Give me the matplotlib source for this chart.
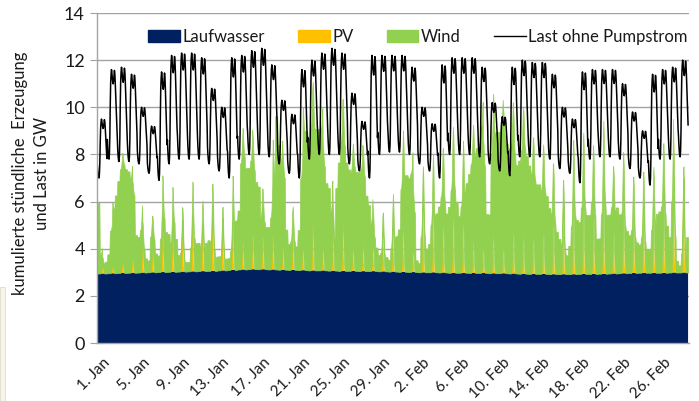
import numpy as np
import matplotlib
matplotlib.use("Agg")
import matplotlib.pyplot as plt
from matplotlib.patches import Patch, Rectangle
from matplotlib.lines import Line2D
from matplotlib.transforms import ScaledTranslation

plt.rcParams['font.family'] = ['Lato', 'DejaVu Sans']

# ---------------- data ----------------
n_days = 59  # 1 Jan .. 28 Feb, hourly values
tick_days = [0, 4, 8, 12, 16, 20, 24, 28, 32, 36, 40, 44, 48, 52, 56]
tick_labels = ["1. Jan", "5. Jan", "9. Jan", "13. Jan", "17. Jan", "21. Jan",
               "25. Jan", "29. Jan", "2. Feb", "6. Feb", "10. Feb", "14. Feb",
               "18. Feb", "22. Feb", "26. Feb"]
series_names = ["Laufwasser", "PV", "Wind", "Last ohne Pumpstrom"]

# Run-of-river generation per day (GW)
laufwasser = [2.95, 2.96, 2.97, 2.98, 2.99, 3.00, 3.01, 3.02, 3.03, 3.04,
              3.05, 3.06, 3.08, 3.10, 3.12, 3.13, 3.13, 3.12, 3.11, 3.10,
              3.09, 3.08, 3.08, 3.07, 3.06, 3.06, 3.05, 3.05, 3.04, 3.03,
              3.02, 3.01, 3.00, 3.00, 2.99, 2.98, 2.98, 2.97, 2.97, 2.96,
              2.96, 2.95, 2.94, 2.93, 2.93, 2.92, 2.92, 2.92, 2.93, 2.93,
              2.94, 2.95, 2.96, 2.97, 2.98, 2.98, 2.98, 2.99, 2.99]

# PV midday peak per day (GW)
pv_peak = [0.3, 0.3, 0.5, 0.6, 1.2, 1.0, 1.8, 1.5, 2.2, 2.4,
           2.0, 2.8, 2.2, 2.0, 1.2, 1.5, 1.4, 1.5, 1.0, 1.5,
           1.0, 2.0, 1.0, 1.5, 2.0, 1.0, 1.2, 1.2, 1.8, 2.0,
           2.0, 1.0, 3.0, 2.8, 2.3, 2.7, 2.4, 1.5, 1.2, 1.8,
           1.2, 2.0, 1.8, 1.8, 2.0, 2.5, 3.0, 3.2, 3.2, 2.8,
           3.5, 2.0, 3.0, 2.6, 3.0, 2.5, 3.0, 4.0, 4.0]
# relative PV profile over the 24 hours of a day
pv_profile = [0, 0, 0, 0, 0, 0, 0, 0, 0.04, 0.18, 0.5, 0.88,
              1.0, 0.82, 0.45, 0.15, 0.03, 0, 0, 0, 0, 0, 0, 0]

# Wind generation per day, four 6-hour blocks (GW)
wind_00_06 = [3.0, 0.8, 3.9, 4.3, 1.5, 0.5, 0.7, 1.6, 0.7, 0.4,
              1.2, 1.3, 0.6, 0.5, 2.5, 4.3, 3.5, 1.8, 5.3, 1.1,
              1.7, 5.6, 6.0, 3.5, 4.6, 4.3, 4.2, 2.8, 0.7, 0.5,
              1.8, 4.0, 0.4, 1.2, 2.8, 2.8, 2.4, 4.2, 5.5, 2.5,
              6.0, 5.3, 4.8, 4.6, 3.8, 2.8, 1.5, 1.2, 2.2, 2.5,
              1.5, 2.5, 2.5, 1.6, 1.2, 1.0, 2.6, 1.5, 0.3]
wind_06_12 = [0.8, 1.8, 4.4, 4.0, 1.8, 1.5, 1.4, 1.2, 0.8, 1.0,
              1.0, 1.2, 0.6, 0.8, 4.5, 4.6, 2.2, 2.2, 4.6, 1.2,
              3.9, 6.0, 6.0, 2.5, 5.5, 4.2, 4.3, 2.0, 0.8, 1.0,
              3.5, 4.2, 1.5, 2.0, 3.2, 3.5, 2.8, 4.6, 6.2, 5.0,
              6.3, 5.5, 5.2, 4.2, 3.5, 2.5, 1.2, 2.0, 2.8, 3.0,
              2.5, 2.8, 2.5, 1.8, 1.5, 1.8, 2.8, 3.0, 0.8]
wind_12_18 = [0.4, 2.7, 4.6, 3.3, 1.0, 1.4, 2.3, 2.1, 0.5, 1.4,
              1.0, 0.9, 0.5, 2.0, 4.8, 4.2, 2.0, 4.0, 3.9, 1.2,
              5.9, 6.0, 4.4, 1.3, 5.3, 4.4, 4.0, 1.4, 0.7, 1.3,
              4.0, 2.5, 1.5, 2.2, 3.0, 3.5, 3.2, 4.8, 4.5, 5.8,
              5.8, 5.0, 5.3, 4.0, 3.5, 2.2, 1.0, 2.5, 2.8, 2.5,
              3.0, 2.5, 2.0, 1.5, 1.3, 2.0, 2.5, 1.5, 0.5]
wind_18_24 = [0.5, 3.3, 4.4, 1.6, 0.6, 0.8, 1.7, 1.4, 0.4, 1.2,
              1.2, 0.6, 0.5, 2.1, 4.3, 3.7, 1.8, 6.5, 1.7, 1.0,
              5.9, 6.0, 3.7, 3.5, 4.6, 4.2, 3.2, 1.0, 0.6, 1.5,
              4.1, 0.5, 1.0, 2.5, 2.5, 3.0, 3.8, 5.3, 2.5, 6.0,
              5.5, 4.6, 5.0, 3.8, 3.3, 1.8, 0.8, 2.3, 2.5, 1.5,
              2.5, 2.8, 1.8, 1.3, 1.0, 2.5, 2.0, 0.5, 1.5]

# Load without pumping: daily maximum and night minimum (GW)
load_max = [9.5, 11.6, 11.7, 11.4, 10.0, 9.2, 11.5, 12.2, 12.3, 12.3,
            12.1, 10.8, 10.0, 12.1, 12.2, 12.4, 12.5, 11.8, 10.3, 9.7,
            11.6, 12.0, 12.3, 12.5, 12.3, 10.6, 9.4, 12.2, 12.2, 12.2,
            12.2, 11.7, 10.0, 9.3, 11.8, 12.1, 12.1, 12.1, 11.7, 10.2,
            9.6, 11.7, 12.0, 11.9, 11.9, 11.4, 10.0, 9.5, 11.5, 11.6,
            11.6, 11.6, 11.0, 9.8, 9.0, 11.4, 11.6, 11.7, 12.0]
load_min = [7.0, 7.8, 7.7, 7.7, 7.6, 7.2, 6.9, 7.6, 7.8, 7.8,
            7.8, 7.6, 7.3, 7.0, 7.8, 8.0, 8.0, 7.9, 7.6, 7.2,
            7.0, 7.8, 8.0, 8.0, 8.0, 7.6, 7.3, 7.0, 8.0, 8.1,
            8.1, 8.0, 7.6, 7.3, 7.0, 8.0, 8.0, 8.0, 7.9, 7.6,
            7.3, 7.1, 7.9, 7.9, 7.9, 7.8, 7.4, 7.2, 6.8, 7.8,
            7.9, 7.9, 7.8, 7.4, 7.0, 6.7, 7.8, 7.8, 7.9]
# relative daily load profile (0 = night minimum, 1 = daily maximum)
load_profile = [0.22, 0.12, 0.05, 0.01, 0.0, 0.06, 0.25, 0.6, 0.85, 0.95,
                1.0, 0.96, 0.9, 0.86, 0.84, 0.87, 0.93, 0.99, 0.95, 0.85,
                0.72, 0.58, 0.45, 0.33]

# ---------------- build hourly series ----------------
x = np.arange(n_days * 24) / 24.0
lw_h = np.repeat(np.array(laufwasser), 24)
pv_h = np.outer(pv_peak, pv_profile).ravel()
wind_blocks = np.column_stack([wind_00_06, wind_06_12, wind_12_18, wind_18_24])
wind_h = np.repeat(wind_blocks, 6, axis=1).ravel()
lmin = np.array(load_min)[:, None]
lmax = np.array(load_max)[:, None]
load_h = (lmin + (lmax - lmin) * np.array(load_profile)[None, :]).ravel()

# ---------------- figure ----------------
W, H = 699, 401
fig = plt.figure(figsize=(W / 100, H / 100), dpi=100)
ax = fig.add_axes([97.3 / W, 1 - 343 / H, (688.5 - 97.3) / W, (343 - 13) / H])

c_lw, c_pv, c_wind = "#002060", "#FFC000", "#92D050"
polys = ax.stackplot(x, lw_h, pv_h, wind_h, colors=[c_lw, c_pv, c_wind],
                     linewidth=0)
# thin green outline: narrow PV tips blend into the wind area as in the original
polys[2].set_edgecolor(c_wind)
polys[2].set_linewidth(0.5)
ax.plot(x, load_h, color="black", lw=1.1)

ax.set_xlim(0, n_days)
ax.set_ylim(0, 14)
ax.set_yticks(range(0, 15, 2))
ax.yaxis.grid(True, color="#a3a3a3", lw=1.0)
ax.set_axisbelow(True)
ax.set_xticks(tick_days)
ax.set_xticklabels(tick_labels, rotation=45, ha="right", va="top",
                   rotation_mode="anchor", fontsize=11, color="#1a1a1a")
ax.tick_params(axis="x", length=0, pad=9)
shift = ScaledTranslation(5 / 100, 0, fig.dpi_scale_trans)
for lab in ax.get_xticklabels():
    lab.set_transform(lab.get_transform() + shift)
ax.tick_params(axis="y", length=5, color="#a3a3a3", labelsize=13,
               labelcolor="#1a1a1a", pad=4)
for s in ["top", "right"]:
    ax.spines[s].set_visible(False)
for s in ["left", "bottom"]:
    ax.spines[s].set_color("#a3a3a3")
    ax.spines[s].set_linewidth(1.0)

fig.text(31 / W, 1 - 173 / H, "kumulierte stündliche  Erzeugung\nund Last in GW",
         rotation=90, ha="center", va="center", multialignment="center",
         fontsize=12, color="#1a1a1a", linespacing=1.4)

handles = [Patch(color=c_lw), Patch(color=c_pv), Patch(color=c_wind),
           Line2D([], [], color="black", lw=1.0)]
fig.legend(handles, series_names, loc="center left",
           bbox_to_anchor=(133 / W, 1 - 37 / H), ncol=4, frameon=False,
           fontsize=12, handlelength=1.9, handletextpad=0.15,
           columnspacing=2.0, labelcolor="#1a1a1a")

# small cropped box remnant at lower left
fig.patches.append(Rectangle((0, 0), 5 / W, (401 - 287) / H,
                             transform=fig.transFigure, facecolor="#f8f5ec",
                             edgecolor="#e6e0d0", lw=0.8))

fig.savefig("out.png", dpi=100)
